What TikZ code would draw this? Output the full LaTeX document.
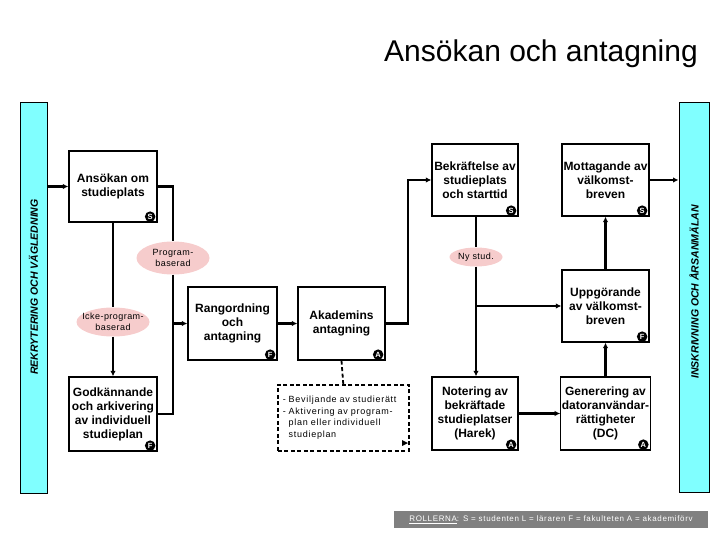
\documentclass[tikz,border=0pt]{standalone}
\usepackage{fontspec}
\setmainfont{Liberation Sans}
\newfontfamily\spc{Liberation Sans}[LetterSpace=8]
\newfontfamily\spce{Liberation Sans}[LetterSpace=5]
\usetikzlibrary{shapes.geometric,arrows.meta,calc}
\definecolor{barcyan}{RGB}{128,255,255}
\definecolor{pinkell}{RGB}{246,204,204}
\definecolor{leggray}{RGB}{128,128,128}
\begin{document}
\begin{tikzpicture}[x=1pt,y=-1pt,
  box/.style={draw,line width=1.3pt,fill=white,align=center,inner sep=1pt,
    font=\bfseries\fontsize{12}{14}\selectfont},
  conn/.style={line width=2.3pt},
  arr/.style={conn,-{Latex[length=5.5pt,width=5.5pt]}},
  badge/.style={circle,fill=black,text=white,inner sep=0pt,minimum size=10.5pt,
    font=\bfseries\fontsize{7.5}{7.5}\selectfont},
  ell/.style={ellipse,fill=pinkell,inner sep=0pt},
  elltext/.style={align=center,inner sep=0pt,font=\spce\fontsize{9}{11}\selectfont},
  bar/.style={draw,line width=1pt,fill=barcyan,minimum width=27pt,minimum height=390pt,inner sep=0pt},
  bartext/.style={rotate=90,font=\bfseries\itshape\fontsize{10.5}{12}\selectfont}
]
\useasboundingbox (0,0) rectangle (720,540);

% title
\node[anchor=base east,inner sep=0pt,font=\fontsize{30}{33}\selectfont] (title) at (698,62) {Ansökan och antagning};

% side bars
\node[bar] (leftbar) at (33.5,298) {};
\node[bartext] (lefttext) at (33.5,287) {REKRYTERING OCH VÄGLEDNING};
\node[bar,minimum width=30pt] (rightbar) at (694,297.5) {};
\node[bartext] (righttext) at (694,292) {INSKRIVNING OCH ÅRSANMÄLAN};

% boxes
\node[box,minimum width=88pt,minimum height=71pt] (ansokan) at (113,186.5) {Ansökan om\\studieplats};
\node[box,minimum width=88pt,minimum height=74pt] (godk) at (113,414) {Godkännande\\och arkivering\\av individuell\\studieplan};
\node[box,minimum width=89pt,minimum height=73pt] (rang) at (232.5,323.5) {Rangordning\\och\\antagning};
\node[box,minimum width=87pt,minimum height=73pt] (akad) at (341.5,323.5) {Akademins\\antagning};
\node[box,minimum width=86pt,minimum height=72pt] (bekr) at (475,180) {Bekräftelse av\\studieplats\\och starttid};
\node[box,minimum width=87pt,minimum height=72pt] (mott) at (605.5,180) {Mottagande av\\välkomst-\\breven};
\node[box,minimum width=87pt,minimum height=72pt] (uppg) at (605.5,306) {Uppgörande\\av välkomst-\\breven};
\node[box,minimum width=86pt,minimum height=73pt] (noter) at (475,413.5) {Notering av\\bekräftade\\studieplatser\\(Harek)};
\node[box,minimum width=87pt,minimum height=73pt] (gener) at (605.5,413.5) {Generering av\\datoranvändar-\\rättigheter\\(DC)};

% badges
\node[badge] (b1) at ($(ansokan.south east)+(-7.5,-6)$) {S};
\node[badge] (b2) at ($(godk.south east)+(-7.5,-6)$) {F};
\node[badge] (b3) at ($(rang.south east)+(-7.5,-6)$) {F};
\node[badge] (b4) at ($(akad.south east)+(-7.5,-6)$) {A};
\node[badge] (b5) at ($(bekr.south east)+(-7.5,-6)$) {S};
\node[badge] (b6) at ($(mott.south east)+(-7.5,-6)$) {S};
\node[badge] (b7) at ($(uppg.south east)+(-7.5,-6)$) {F};
\node[badge] (b8) at ($(noter.south east)+(-7.5,-6)$) {A};
\node[badge] (b9) at ($(gener.south east)+(-7.5,-6)$) {A};

% ellipses
\node[ell,minimum width=73pt,minimum height=33pt] (prog) at (173,258) {};
\node[elltext] (progt) at (prog) {Program-\\baserad};
\node[ell,minimum width=73pt,minimum height=29pt] (icke) at (113,322) {};
\node[elltext] (icket) at (icke) {Icke-program-\\baserad};
\node[ell,minimum width=53pt,minimum height=19pt] (ny) at (476,257) {};
\node[elltext] (nyt) at (ny) {Ny stud.};

% dashed note
\node[draw,dashed,dash pattern=on 4pt off 2.5pt,line width=1.5pt,anchor=north west,
  minimum width=131pt,minimum height=66pt,text width=121pt,inner sep=5pt,align=left,
  font=\spc\fontsize{9}{11.7}\selectfont] (dbox) at (277,384)
  {- Beviljande av studierätt\\- Aktivering av program-\\\hphantom{- }plan eller individuell\\\hphantom{- }studieplan};
\coordinate (dtip) at (408,443);
\fill (dtip) -- ++(-6,-3) -- ++(0,6) -- cycle;

% legend
\node[fill=leggray,text=white,minimum width=314pt,minimum height=17pt,inner sep=0pt,
  font=\spc\fontsize{8}{9}\selectfont] (legend) at (551,519.5)
  {\underline{ROLLERNA}: S = studenten L = läraren F = fakulteten A = akademiförv};

% connectors
\coordinate (j1) at (173,323.5);
\coordinate (j2) at (476,306);
\coordinate (j3) at (408,323.5);
\draw[arr] (leftbar.east |- ansokan.west) -- (ansokan.west);
\draw[conn] (ansokan.east) -| (prog.north);
\draw[arr] (prog.south) -- (j1) -- (rang.west);
\draw[conn] (ansokan.south) -- (icke.north);
\draw[arr] (icke.south) -- (godk.north);
\draw[conn] (godk.east) -| (j1);
\draw[arr] (rang.east) -- (akad.west);
\draw[arr] (akad.east) -- (j3) |- (bekr.west);
\draw[dashed,dash pattern=on 4pt off 2.5pt,line width=1.8pt] (akad.south) -- (dbox.north);
\draw[conn] (bekr.south -| ny.north) -- (ny.north);
\draw[arr] (ny.south) -- (noter.north -| ny.south);
\draw[arr] (j2) -- (uppg.west);
\draw[arr] (uppg.north) -- (mott.south);
\draw[arr] (noter.east |- gener.west) -- (gener.west);
\draw[arr] (gener.north) -- (uppg.south);
\draw[arr] (mott.east) -- (rightbar.west |- mott.east);
\end{tikzpicture}
\end{document}
